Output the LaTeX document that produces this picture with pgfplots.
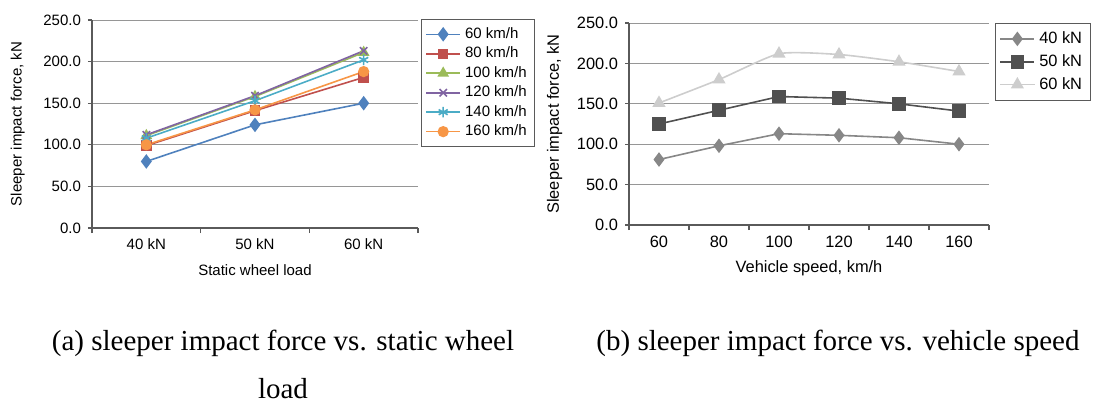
\documentclass[border=0pt]{standalone}
\usepackage{fontspec}
\setmainfont{Liberation Sans}
\newfontfamily\capfont{Liberation Serif}
\usepackage{pgfplots}
\pgfplotsset{compat=1.18}
\definecolor{c1}{HTML}{4F81BD}
\definecolor{c2}{HTML}{C0504D}
\definecolor{c3}{HTML}{9BBB59}
\definecolor{c4}{HTML}{8064A2}
\definecolor{c5}{HTML}{4BACC6}
\definecolor{c6}{HTML}{F79646}
\definecolor{g40}{RGB}{135,135,135}
\definecolor{g50}{RGB}{80,80,80}
\definecolor{g60}{RGB}{205,205,205}
\definecolor{gridc}{RGB}{150,150,150}
\definecolor{axc}{RGB}{90,90,90}

\pgfplotsset{
  excel/.style={
    scale only axis,
    axis x line=bottom, axis y line=left,
    axis line style={-, draw=axc, line width=0.6pt},
    ymin=0, ymax=250, ytick={0,50,...,250},
    ymajorgrids, grid style={draw=gridc, line width=0.5pt},
    tick align=outside, major tick length=2pt, minor tick length=2.5pt,
    tick style={draw=axc, line width=0.6pt},
    xtick style={draw=none}, minor x tick style={draw=axc, line width=0.6pt},
    /pgf/number format/assume math mode=true,
    yticklabel style={/pgf/number format/.cd, fixed, fixed zerofill, precision=1},
    legend cell align=left,
    clip=false,
  },
}

\begin{document}
\begin{tikzpicture}
\useasboundingbox (0,0) rectangle (547pt,201.5pt);

% (a) impact force vs static wheel load
\begin{axis}[excel,
  at={(46pt,87.5pt)}, anchor=south west,
  width=163pt, height=104pt,
  xmin=-0.5, xmax=2.5,
  xtick={0,1,2}, xticklabels={40 kN, 50 kN, 60 kN},
  minor xtick={-0.5,0.5,1.5,2.5},
  font=\fontsize{7.5}{9}\selectfont,
  xlabel={Static wheel load},
  ylabel={Sleeper impact force, kN},
  xlabel style={yshift=-0.5pt},
  ylabel style={yshift=2.5pt},
  legend style={at={(1.009,1.005)}, anchor=north west, draw=axc,
    font=\fontsize{7.5}{9}\selectfont, row sep=-1.2pt, inner sep=2pt},
  every axis plot/.append style={line width=0.8pt, mark size=2.4pt},
]
\addplot[c1, mark=diamond*, mark size=3pt] coordinates {(0,80) (1,124) (2,150)};
\addlegendentry{60 km/h}
\addplot[c2, mark=square*, mark size=2.2pt] coordinates {(0,99) (1,141) (2,181)};
\addlegendentry{80 km/h}
\addplot[c3, mark=triangle*, mark size=2.6pt] coordinates {(0,111) (1,158) (2,211)};
\addlegendentry{100 km/h}
\addplot[c4, mark=x, mark size=2.6pt] coordinates {(0,112) (1,159) (2,213)};
\addlegendentry{120 km/h}
\addplot[c5, mark=asterisk, mark size=2.6pt] coordinates {(0,108) (1,153) (2,202)};
\addlegendentry{140 km/h}
\addplot[c6, mark=*, mark size=2.4pt] coordinates {(0,100) (1,142) (2,188)};
\addlegendentry{160 km/h}
\end{axis}

% (b) impact force vs vehicle speed
\begin{axis}[excel,
  at={(314.5pt,89pt)}, anchor=south west,
  width=180pt, height=101pt,
  xmin=-0.5, xmax=5.5,
  xtick={0,...,5}, xticklabels={60,80,100,120,140,160},
  minor xtick={-0.5,0.5,...,5.5},
  font=\fontsize{8.2}{10}\selectfont,
  xlabel={Vehicle speed, km/h},
  ylabel={Sleeper impact force, kN},
  xlabel style={yshift=0.5pt},
  ylabel style={yshift=0.5pt},
  legend style={at={(1.017,1.0)}, anchor=north west, draw=axc,
    font=\fontsize{8.2}{10}\selectfont, row sep=0pt, inner sep=2pt},
  every axis plot/.append style={line width=0.8pt},
]
\addplot[g40, mark=diamond*, mark size=3pt] coordinates {(0,81) (1,98) (2,113) (3,111) (4,108) (5,100)};
\addlegendentry{40 kN}
\addplot[g50, mark=square*, mark size=3pt] coordinates {(0,125) (1,142) (2,159) (3,157) (4,150) (5,141)};
\addlegendentry{50 kN}
\addplot[g60, mark=triangle*, mark size=3pt, smooth, tension=0.35] coordinates {(0,151) (1,180) (2,212) (3,211) (4,202) (5,190)};
\addlegendentry{60 kN}
\end{axis}

\node[font=\capfont\fontsize{14.5}{17}\selectfont, anchor=base] at (141.5pt,26.5pt) {(a) sleeper impact force vs. static wheel};
\node[font=\capfont\fontsize{14.5}{17}\selectfont, anchor=base] at (141.5pt,2.5pt) {load};
\node[font=\capfont\fontsize{14.5}{17}\selectfont, anchor=base] at (419pt,26.5pt) {(b) sleeper impact force vs. vehicle speed};
\end{tikzpicture}
\end{document}
